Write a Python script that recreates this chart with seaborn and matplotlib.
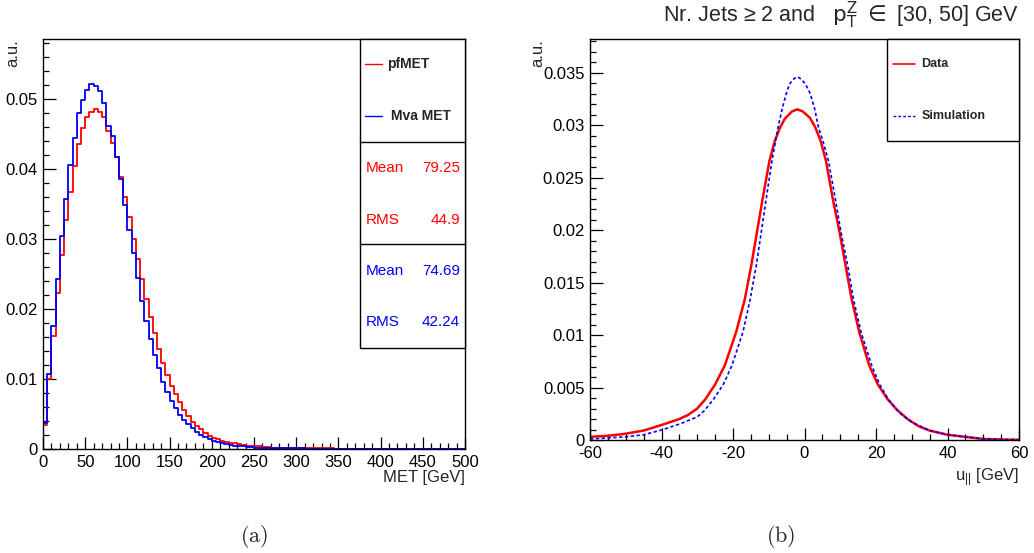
import numpy as np
import pandas as pd
import matplotlib
matplotlib.use("Agg")
import matplotlib.pyplot as plt
import seaborn as sns
from matplotlib.ticker import MultipleLocator, FuncFormatter
from matplotlib.patches import Rectangle

# ---------------- data (left panel: MET histograms, 5 GeV bins, 0-500) ----------------
met_bin_width = 5
pfmet_vals = [
    0.0034, 0.0100, 0.0161, 0.0223, 0.0277, 0.0327, 0.0368, 0.0405, 0.0436, 0.0459,
    0.0474, 0.0482, 0.0486, 0.0481, 0.0474, 0.0455, 0.0438, 0.0417, 0.0389, 0.0360,
    0.0332, 0.0300, 0.0272, 0.0243, 0.0214, 0.0189, 0.0166, 0.0143, 0.0123, 0.0106,
    0.0090, 0.0078, 0.0067, 0.0056, 0.0047, 0.0039, 0.0033, 0.0028, 0.0023, 0.0019,
    0.0016, 0.0014, 0.0012, 0.0010, 0.0009, 0.0008, 0.0007, 0.0006, 0.0005, 0.0005,
    0.0004, 0.0004, 0.0003, 0.0003, 0.0002, 0.0002, 0.0002, 0.0002, 0.0001, 0.0001,
    0.0001, 0.0001, 0.0001, 0.0001, 0.0001, 0.0001, 0.0001, 0.00008, 0.00008, 0.00007,
    0.00007, 0.00006, 0.00006, 0.00005, 0.00005, 0.00005, 0.00004, 0.00004, 0.00004, 0.00003,
    0.00003, 0.00003, 0.00003, 0.00002, 0.00002, 0.00002, 0.00002, 0.00002, 0.00002, 0.00001,
    0.00001, 0.00001, 0.00001, 0.00001, 0.00001, 0.00001, 0.00001, 0.00001, 0.00001, 0.00001,
]
mvamet_vals = [
    0.0037, 0.0107, 0.0176, 0.0243, 0.0305, 0.0358, 0.0406, 0.0444, 0.0480, 0.0499,
    0.0513, 0.0521, 0.0519, 0.0511, 0.0494, 0.0461, 0.0447, 0.0418, 0.0386, 0.0349,
    0.0313, 0.0280, 0.0244, 0.0211, 0.0183, 0.0157, 0.0135, 0.0116, 0.0096, 0.0082,
    0.0069, 0.0058, 0.0049, 0.0042, 0.0036, 0.0030, 0.0025, 0.0020, 0.0017, 0.0014,
    0.0012, 0.0010, 0.0009, 0.0007, 0.0006, 0.0005, 0.0004, 0.0004, 0.0003, 0.0003,
    0.0002, 0.0002, 0.0002, 0.0002, 0.0001, 0.0001, 0.0001, 0.0001, 0.0001, 0.0001,
    0.00008, 0.00008, 0.00007, 0.00006, 0.00006, 0.00005, 0.00005, 0.00004, 0.00004, 0.00004,
    0.00003, 0.00003, 0.00003, 0.00002, 0.00002, 0.00002, 0.00002, 0.00002, 0.00001, 0.00001,
    0.00001, 0.00001, 0.00001, 0.00001, 0.00001, 0.00001, 0.00001, 0.00001, 0.00001, 0.00001,
    0.00001, 0.00001, 0.00001, 0.00001, 0.00001, 0.00001, 0.00001, 0.00001, 0.00001, 0.00001,
]
stats_pf = ("79.25", "44.9")
stats_mva = ("74.69", "42.24")

# ---------------- data (right panel: u_parallel distributions) ----------------
data_u = [-60, -55, -50, -45, -40, -35, -32.5, -30, -27.7, -25, -22.3, -19.1, -16.7, -14.9,
          -13.3, -11.7, -9.8, -8.3, -6.8, -5.5, -3.5, -2.0, -0.5, 1.5, 3.0, 4.5, 6.0,
          7.9, 9.8, 11.5, 13.2, 15.3, 18.1, 20.5, 23.2, 25.8, 28.8, 32, 35, 40, 45, 50, 55, 60]
data_v = [0.0003, 0.0004, 0.0006, 0.0009, 0.00143, 0.0020, 0.0024, 0.0030, 0.0039, 0.0053,
          0.0071, 0.0103, 0.0134, 0.0166, 0.0198, 0.0230, 0.0266, 0.0285, 0.0298, 0.0306,
          0.0313, 0.0315, 0.0313, 0.0307, 0.0298, 0.0285, 0.0266, 0.0230, 0.0198, 0.0166,
          0.0134, 0.0103, 0.0071, 0.0053, 0.0039, 0.0029, 0.0020, 0.0013, 0.0009, 0.0005,
          0.0003, 0.0001, 0.00005, 0.00002]
sim_u = [-60, -55, -50, -45, -40, -34.7, -30, -28, -25.4, -22.7, -20.3, -17.2, -15.2, -13.5,
         -12.1, -10.7, -9.1, -7.4, -6.2, -5.1, -4.2, -3.0, -2.0, -1.0, 0.3, 1.6, 2.8, 3.9,
         5.3, 6.7, 8.6, 10.2, 12.1, 13.7, 15.8, 18.8, 21.0, 23.4, 26.5, 30, 35, 40, 45, 50,
         55, 60]
sim_v = [0.0001, 0.0002, 0.0003, 0.0005, 0.00095, 0.00155, 0.0022, 0.0028, 0.0039, 0.0053,
         0.0071, 0.0103, 0.0134, 0.0166, 0.0198, 0.0230, 0.0266, 0.0298, 0.0316, 0.0330,
         0.0339, 0.0344, 0.0346, 0.0344, 0.0339, 0.0330, 0.0316, 0.0298, 0.0283, 0.0266,
         0.0230, 0.0198, 0.0166, 0.0134, 0.0103, 0.0071, 0.0053, 0.0039, 0.0026, 0.0017,
         0.0009, 0.0005, 0.0003, 0.0001, 0.00005, 0.00002]

RED = "#ff0000"
BLUE = "#0000ff"

sns.set_theme(style="ticks")
plt.rcParams["font.family"] = ["Liberation Sans", "DejaVu Sans"]
plt.rcParams["mathtext.fontset"] = "custom"
plt.rcParams["mathtext.rm"] = "Liberation Sans"
plt.rcParams["mathtext.it"] = "Liberation Sans:italic"
plt.rcParams["mathtext.bf"] = "Liberation Sans:bold"
plt.rcParams["axes.unicode_minus"] = False

fig = plt.figure(figsize=(10.34, 5.53), dpi=100)
W, H = 1034, 553

def axes_px(x0, x1, ytop, ybot):
    return fig.add_axes([x0 / W, (H - ybot) / H, (x1 - x0) / W, (ybot - ytop) / H])

axL = axes_px(43, 465, 39, 449)
axR = axes_px(590, 1019, 39, 440)

def fmt(v, pos):
    if abs(v) < 1e-12:
        return "0"
    return "%g" % v

for ax in (axL, axR):
    for s in ax.spines.values():
        s.set_color("black")
        s.set_linewidth(1.0)
    ax.tick_params(which="both", direction="in", top=False, right=False,
                   colors="black", labelsize=12, pad=4)
    ax.tick_params(which="major", length=9, width=0.9)
    ax.tick_params(which="minor", length=4.5, width=0.9)
    ax.xaxis.set_major_formatter(FuncFormatter(fmt))
    ax.yaxis.set_major_formatter(FuncFormatter(fmt))
    ax.set_facecolor("white")

# ---------------- left panel ----------------
edges = np.arange(0, 500 + met_bin_width, met_bin_width)
centers = edges[:-1] + met_bin_width / 2
df = pd.DataFrame({
    "MET": np.concatenate([centers, centers]),
    "w": np.concatenate([pfmet_vals, mvamet_vals]),
    "kind": ["pfMET"] * len(centers) + ["Mva MET"] * len(centers),
})
bin_list = [float(e) for e in edges]
sns.histplot(data=df[df.kind == "pfMET"], x="MET", weights="w", bins=bin_list,
             element="step", fill=False, color=RED, linewidth=1.3, ax=axL, legend=False)
sns.histplot(data=df[df.kind == "Mva MET"], x="MET", weights="w", bins=bin_list,
             element="step", fill=False, color=BLUE, linewidth=1.3, ax=axL, legend=False)
axL.set_xlim(0, 500)
axL.set_ylim(0, 0.0586)
axL.xaxis.set_major_locator(MultipleLocator(50))
axL.xaxis.set_minor_locator(MultipleLocator(10))
axL.yaxis.set_major_locator(MultipleLocator(0.01))
axL.yaxis.set_minor_locator(MultipleLocator(0.002))
axL.set_xlabel("MET [GeV]", fontsize=12, ha="right", va="top")
axL.xaxis.set_label_coords(1.0, -0.052)
axL.set_ylabel("a.u.", fontsize=12, ha="right", va="center")
axL.yaxis.set_label_coords(-0.071, 1.0)

# stat / legend box
T = axL.transAxes
bx0, by0 = 0.751, 0.246
axL.add_patch(Rectangle((bx0, by0), 1 - bx0, 1 - by0, transform=T, fill=True,
                        facecolor="white", edgecolor="black", lw=1.0, zorder=5, clip_on=False))
for yy in (0.749, 0.50):
    axL.plot([bx0, 1.0], [yy, yy], transform=T, color="black", lw=1.0, zorder=6, clip_on=False)
axL.plot([0.763, 0.803], [0.939, 0.939], transform=T, color=RED, lw=1.0, zorder=6)
axL.text(0.815, 0.939, "pfMET", transform=T, fontsize=10, fontweight="bold",
         va="center", ha="left", zorder=7)
axL.plot([0.763, 0.803], [0.812, 0.812], transform=T, color=BLUE, lw=1.0, zorder=6)
axL.text(0.825, 0.812, "Mva MET", transform=T, fontsize=10, fontweight="bold",
         va="center", ha="left", zorder=7)
for (lab, val, yy, col) in [("Mean", stats_pf[0], 0.685, RED), ("RMS", stats_pf[1], 0.559, RED),
                            ("Mean", stats_mva[0], 0.434, BLUE), ("RMS", stats_mva[1], 0.310, BLUE)]:
    axL.text(0.765, yy, lab, transform=T, fontsize=11, color=col, va="center", ha="left", zorder=7)
    axL.text(0.988, yy, val, transform=T, fontsize=11, color=col, va="center", ha="right", zorder=7)

# ---------------- right panel ----------------
dfd = pd.DataFrame({"u": data_u, "v": data_v})
dfs = pd.DataFrame({"u": sim_u, "v": sim_v})
sns.lineplot(data=dfd, x="u", y="v", color=RED, linewidth=1.8, ax=axR)
sns.lineplot(data=dfs, x="u", y="v", color=BLUE, linewidth=1.2, ax=axR,
             linestyle=(0, (2.0, 1.5)))
axR.set_xlim(-60, 60)
axR.set_ylim(0, 0.0382)
axR.xaxis.set_major_locator(MultipleLocator(20))
axR.xaxis.set_minor_locator(MultipleLocator(5))
axR.yaxis.set_major_locator(MultipleLocator(0.005))
axR.yaxis.set_minor_locator(MultipleLocator(0.001))
axR.set_xlabel(r"u$_{\mathregular{||}}$ [GeV]", fontsize=12, ha="right", va="top")
axR.xaxis.set_label_coords(1.0, -0.067)
axR.set_ylabel("a.u.", fontsize=12, ha="right", va="center")
axR.yaxis.set_label_coords(-0.121, 1.0)

TR = axR.transAxes
rx0, ry0 = 0.692, 0.746
axR.add_patch(Rectangle((rx0, ry0), 1 - rx0, 1 - ry0, transform=TR, facecolor="white",
                        edgecolor="black", lw=1.0, zorder=5, clip_on=False))
axR.plot([0.706, 0.758], [0.938, 0.938], transform=TR, color=RED, lw=1.2, zorder=6)
axR.text(0.772, 0.938, "Data", transform=TR, fontsize=9, fontweight="bold",
         va="center", ha="left", zorder=7)
axR.plot([0.706, 0.758], [0.808, 0.808], transform=TR, color=BLUE, lw=1.0,
         linestyle=(0, (2.0, 1.5)), zorder=6)
axR.text(0.772, 0.808, "Simulation", transform=TR, fontsize=9, fontweight="bold",
         va="center", ha="left", zorder=7)

fig.text(663 / W, 1 - 15 / H,
         r"Nr. Jets ≥ 2 and   $\mathrm{p}_{\mathrm{T}}^{\mathrm{Z}}$ $\in$ [30, 50] GeV",
         fontsize=15.5, ha="left", va="center", math_fontfamily="dejavusans")

fig.text(254 / W, 1 - 537 / H, r"$\mathrm{(a)}$", fontsize=16, ha="center", va="center",
         math_fontfamily="cm")
fig.text(781 / W, 1 - 537 / H, r"$\mathrm{(b)}$", fontsize=16, ha="center", va="center",
         math_fontfamily="cm")

fig.savefig("out.png", dpi=100, facecolor="white")
